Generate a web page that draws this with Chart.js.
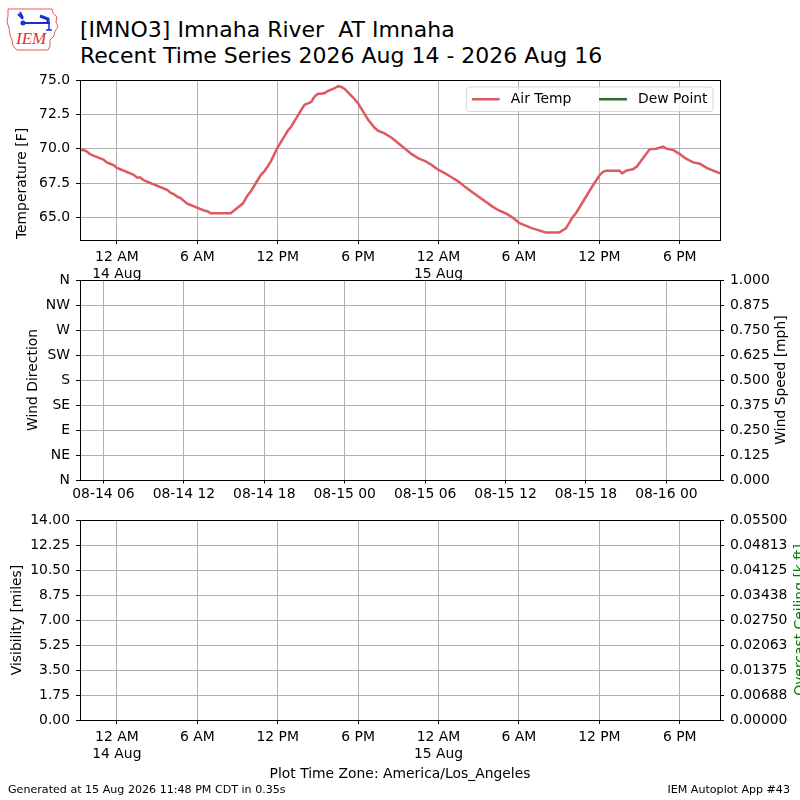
<!DOCTYPE html>
<html>
<head>
<meta charset="utf-8">
<script src="https://cdn.jsdelivr.net/npm/chart.js@4.4.1/dist/chart.umd.min.js"></script>
<style>
    body { margin: 0; background: #fff; width: 800px; height: 800px; position: relative; overflow: hidden; font-family: 'DejaVu Sans', sans-serif; }
    canvas { position: absolute; left: 0; }
    .txt { position: absolute; white-space: nowrap; color: #000; line-height: 1; }
</style>
</head>
<body>

<svg style="position:absolute;left:0;top:0" width="70" height="60" viewBox="0 0 70 60">
    <path d="M8 9 L52 9 L53 13 L57 17 L56 22 L58 27 L55 31 L54 36 L50 40 L50 46 L48 50 L17 50 L13 46 L12 40 L10 35 L9 28 L7 22 L8 16 Z"
          fill="none" stroke="#e03030" stroke-width="0.8"/>
    <path d="M20 12 L23 18 M18 14 L23 19" stroke="#1a2fd0" stroke-width="2" fill="none"/>
    <line x1="23" y1="23" x2="50" y2="23" stroke="#1a2fd0" stroke-width="2"/>
    <path d="M40 16 L48 19 L48 22" stroke="#1a2fd0" stroke-width="3" fill="none"/>
    <circle cx="23" cy="23" r="2.5" fill="#1a2fd0"/>
    <path d="M49 24 L49 30 M46 30 L52 30" stroke="#1a2fd0" stroke-width="1.5" fill="none"/>
    <text x="16" y="44" font-family="Liberation Serif" font-style="italic" font-size="17" fill="#e03030">IEM</text>
</svg>

<div class="txt" style="left:80px;top:18.9px;font-size:22px">[IMNO3] Imnaha River&nbsp; AT Imnaha</div>
<div class="txt" style="left:80px;top:44.7px;font-size:22px">Recent Time Series 2026 Aug 14 - 2026 Aug 16</div>

<canvas id="temp" width="800" height="210" style="top:70px;width:800px;height:210px"></canvas>
<canvas id="wind" width="800" height="235" style="top:272px;width:800px;height:235px"></canvas>
<canvas id="vis" width="800" height="253" style="top:512px;width:800px;height:253px"></canvas>

<div class="txt" style="left:0;width:800px;text-align:center;top:767px;font-size:13.9px">Plot Time Zone: America/Los_Angeles</div>
<div class="txt" style="left:8px;top:784px;font-size:11.1px">Generated at 15 Aug 2026 11:48 PM CDT in 0.35s</div>
<div class="txt" style="right:10px;top:784px;font-size:11.1px">IEM Autoplot App #43</div>

<script>
// hours after 2026-08-14 00:00 America/Los_Angeles
const obsHours = [
    -2.75, -2.5, -2.25, -2.0, -1.75, -1.5, -1.25, -1.0, -0.75, -0.5, -0.25,
    0.0, 0.25, 0.5, 0.75, 1.0, 1.25, 1.5, 1.75, 2.0, 2.25, 2.5, 2.75,
    3.0, 3.25, 3.5, 3.75, 4.0, 4.25, 4.5, 4.75, 5.0, 5.25, 5.5, 5.75,
    6.0, 6.25, 6.5, 6.75, 7.0, 7.5, 8.0, 8.5, 8.75, 9.0, 9.4, 9.75,
    10.0, 10.25, 10.5, 10.75, 11.0, 11.25, 11.5, 11.75, 12.0, 12.25, 12.5, 12.75,
    13.0, 13.25, 13.5, 13.75, 14.0, 14.25, 14.5, 14.75, 15.0, 15.25, 15.5, 15.75,
    16.0, 16.25, 16.5, 16.75, 17.0, 17.25, 17.5, 17.75, 18.0, 18.25, 18.5, 18.75,
    19.0, 19.25, 19.5, 19.75, 20.0, 20.5, 21.0, 21.5, 22.0, 22.5, 23.0, 23.5,
    24.0, 24.5, 25.0, 25.5, 26.0, 26.5, 27.0, 27.5, 28.0, 28.5, 29.0, 29.5,
    30.0, 30.5, 31.0, 31.5, 32.0, 32.5, 33.0, 33.5, 33.75, 34.0, 34.25, 34.5,
    35.0, 35.5, 36.0, 36.25, 36.5, 37.0, 37.5, 37.7, 38.0, 38.5, 38.8, 39.25,
    39.75, 40.25, 40.75, 41.0, 41.5, 42.0, 42.5, 43.0, 43.5, 44.0, 44.5, 45.0
];
const airTemp = [
    69.9, 69.9, 69.8, 69.6, 69.5, 69.4, 69.3, 69.2, 69.0, 68.9, 68.8,
    68.6, 68.5, 68.4, 68.3, 68.2, 68.1, 67.9, 67.9, 67.7, 67.6, 67.5, 67.4,
    67.3, 67.2, 67.1, 67.0, 66.8, 66.7, 66.5, 66.4, 66.2, 66.0, 65.9, 65.8,
    65.7, 65.6, 65.5, 65.45, 65.3, 65.3, 65.3, 65.3, 65.5, 65.7, 66.0, 66.6,
    66.9, 67.3, 67.7, 68.1, 68.35, 68.7, 69.1, 69.6, 70.1, 70.5, 70.9, 71.3,
    71.6, 72.0, 72.4, 72.8, 73.2, 73.3, 73.4, 73.8, 74.0, 74.0, 74.05, 74.2,
    74.3, 74.4, 74.55, 74.5, 74.35, 74.1, 73.85, 73.6, 73.3, 72.9, 72.5, 72.1,
    71.8, 71.5, 71.3, 71.2, 71.1, 70.8, 70.4, 70.0, 69.6, 69.3, 69.1, 68.8,
    68.45, 68.2, 67.9, 67.6, 67.2, 66.85, 66.5, 66.15, 65.8, 65.5, 65.3, 65.0,
    64.6, 64.4, 64.2, 64.05, 63.9, 63.9, 63.9, 64.2, 64.6, 65.0, 65.3, 65.7,
    66.5, 67.3, 68.05, 68.3, 68.4, 68.4, 68.4, 68.2, 68.4, 68.5, 68.7, 69.3,
    69.95, 70.0, 70.15, 70.0, 69.9, 69.6, 69.25, 69.0, 68.9, 68.6, 68.4, 68.2
];
const dewPoint = [];

const localTickHours = [0, 6, 12, 18, 24, 30, 36, 42];
const localTickLabels = [['12 AM', '14 Aug'], '6 AM', '12 PM', '6 PM', ['12 AM', '15 Aug'], '6 AM', '12 PM', '6 PM'];
const utcTickHours = [-1, 5, 11, 17, 23, 29, 35, 41];
const utcTickLabels = ['08-14 06', '08-14 12', '08-14 18', '08-15 00', '08-15 06', '08-15 12', '08-15 18', '08-16 00'];

const tempTicks = [65, 67.5, 70, 72.5, 75];
const tempTickLabels = ['65.0', '67.5', '70.0', '72.5', '75.0'];
const dirTicks = [0, 45, 90, 135, 180, 225, 270, 315, 360];
const dirTickLabels = ['N', 'NE', 'E', 'SE', 'S', 'SW', 'W', 'NW', 'N'];
const speedTicks = [0, 0.125, 0.25, 0.375, 0.5, 0.625, 0.75, 0.875, 1];
const speedTickLabels = ['0.000', '0.125', '0.250', '0.375', '0.500', '0.625', '0.750', '0.875', '1.000'];
const visTicks = [0, 1.75, 3.5, 5.25, 7, 8.75, 10.5, 12.25, 14];
const visTickLabels = ['0.00', '1.75', '3.50', '5.25', '7.00', '8.75', '10.50', '12.25', '14.00'];
const ceilTicks = [0, 0.006875, 0.01375, 0.020625, 0.0275, 0.034375, 0.04125, 0.048125, 0.055];
const ceilTickLabels = ['0.00000', '0.00688', '0.01375', '0.02063', '0.02750', '0.03438', '0.04125', '0.04813', '0.05500'];

const FONT = 'DejaVu Sans';
const FONT_PX = 13.9;
const GRID = '#b0b0b0';

Chart.defaults.font.family = FONT;
Chart.defaults.font.size = FONT_PX;
Chart.defaults.color = '#000';

function fixedTicks(values) {
    return scale => { scale.ticks = values.map(v => ({ value: v })); };
}

function timeAxis(tickHours, tickLabels, height, tickLength, padding) {
    return {
        type: 'linear',
        min: obsHours[0],
        max: obsHours[obsHours.length - 1],
        afterBuildTicks: fixedTicks(tickHours),
        afterFit: s => {
            s.height = height;
            s.paddingLeft = 0;
            s.paddingRight = 0;
        },
        ticks: { autoSkip: false, maxRotation: 0, padding: padding, callback: (v, i) => tickLabels[i] },
        grid: { color: GRID, lineWidth: 1, tickLength: tickLength, tickColor: '#000' },
        border: { display: false }
    };
}

function valueAxis(position, min, max, tickValues, tickLabels, showGrid) {
    return {
        type: 'linear',
        position: position,
        min: min,
        max: max,
        afterBuildTicks: fixedTicks(tickValues),
        afterFit: s => {
            s.width = 80;
            s.paddingTop = 0;
            s.paddingBottom = 0;
        },
        ticks: { autoSkip: false, padding: 6, callback: (v, i) => tickLabels[i] },
        grid: { color: GRID, lineWidth: 1, tickLength: 4, tickColor: '#000', drawOnChartArea: showGrid },
        border: { display: false }
    };
}

// black box round the plot area, like matplotlib spines
const frame = {
    id: 'frame',
    afterDraw(chart) {
        const { ctx, chartArea: a } = chart;
        ctx.save();
        ctx.strokeStyle = '#000';
        ctx.lineWidth = 1;
        ctx.strokeRect(Math.round(a.left) + 0.5, Math.round(a.top) + 0.5, Math.round(a.right - a.left), Math.round(a.bottom - a.top));
        ctx.restore();
    }
};

function axisTitles(titles) {
    return {
        id: 'axisTitles',
        afterDraw(chart) {
            const { ctx, chartArea } = chart;
            const midY = (chartArea.top + chartArea.bottom) / 2;
            titles.forEach(t => {
                ctx.save();
                ctx.translate(t.x, midY + (t.dy || 0));
                ctx.rotate(-Math.PI / 2);
                ctx.font = FONT_PX + 'px "' + FONT + '"';
                ctx.fillStyle = t.color || '#000';
                ctx.textAlign = 'center';
                ctx.textBaseline = 'middle';
                ctx.fillText(t.text, 0, 0);
                ctx.restore();
            });
        }
    };
}

// matplotlib style legend in the upper right of the plot area
const cornerLegend = {
    id: 'cornerLegend',
    afterDraw(chart) {
        const { ctx, chartArea: a } = chart;
        const sets = chart.data.datasets;
        ctx.save();
        ctx.font = FONT_PX + 'px "' + FONT + '"';
        const handle = 2 * FONT_PX, gap = 0.8 * FONT_PX, colGap = 2 * FONT_PX, pad = 5.5;
        let inner = 0;
        sets.forEach((ds, i) => {
            inner += handle + gap + ctx.measureText(ds.label).width + (i ? colGap : 0);
        });
        const w = inner + 2 * pad, h = 24.5;
        const x0 = a.right - 7 - w, y0 = a.top + 7;
        ctx.beginPath();
        ctx.roundRect(x0, y0, w, h, 3);
        ctx.fillStyle = 'rgba(255,255,255,0.8)';
        ctx.fill();
        ctx.strokeStyle = '#d6d6d6';
        ctx.lineWidth = 1;
        ctx.stroke();
        let x = x0 + pad;
        const yMid = y0 + h / 2;
        sets.forEach((ds, i) => {
            if (i) x += colGap;
            ctx.beginPath();
            ctx.moveTo(x, yMid);
            ctx.lineTo(x + handle, yMid);
            ctx.strokeStyle = ds.borderColor;
            ctx.lineWidth = 2.5;
            ctx.stroke();
            x += handle + gap;
            ctx.fillStyle = '#000';
            ctx.textBaseline = 'middle';
            ctx.fillText(ds.label, x, yMid);
            x += ctx.measureText(ds.label).width;
        });
        ctx.restore();
    }
};

const common = {
    responsive: false,
    animation: false,
    events: [],
    plugins: { legend: { display: false }, tooltip: { enabled: false } }
};

new Chart(document.getElementById('temp'), {
    type: 'line',
    data: {
        datasets: [
            {
                label: 'Air Temp',
                data: obsHours.map((h, i) => ({ x: h, y: airTemp[i] })),
                borderColor: '#de5a62',
                borderWidth: 2.5,
                pointRadius: 0,
                tension: 0
            },
            {
                label: 'Dew Point',
                data: dewPoint,
                borderColor: '#2e6b2e',
                borderWidth: 2.5,
                pointRadius: 0
            }
        ]
    },
    options: {
        ...common,
        layout: { padding: { top: 10, right: 80, left: 0, bottom: 0 } },
        scales: {
            x: timeAxis(localTickHours, localTickLabels, 40, 4, 5),
            y: valueAxis('left', 63.35, 75.0, tempTicks, tempTickLabels, true)
        }
    },
    plugins: [frame, cornerLegend, axisTitles([{ text: 'Temperature [F]', x: 22.5, dy: 23.5 }])]
});

new Chart(document.getElementById('wind'), {
    type: 'line',
    data: { datasets: [] },
    options: {
        ...common,
        layout: { padding: { top: 8, right: 0, left: 0, bottom: 0 } },
        scales: {
            x: timeAxis(utcTickHours, utcTickLabels, 27, 3.5, 2.5),
            y: valueAxis('left', 0, 360, dirTicks, dirTickLabels, true),
            y2: valueAxis('right', 0, 1, speedTicks, speedTickLabels, false)
        }
    },
    plugins: [frame, axisTitles([
        { text: 'Wind Direction', x: 33 },
        { text: 'Wind Speed [mph]', x: 781.5 }
    ])]
});

new Chart(document.getElementById('vis'), {
    type: 'line',
    data: { datasets: [] },
    options: {
        ...common,
        layout: { padding: { top: 8, right: 0, left: 0, bottom: 0 } },
        scales: {
            x: timeAxis(localTickHours, localTickLabels, 45, 4, 5),
            y: valueAxis('left', 0, 14, visTicks, visTickLabels, true),
            y2: valueAxis('right', 0, 0.055, ceilTicks, ceilTickLabels, false)
        }
    },
    plugins: [frame, axisTitles([
        { text: 'Visibility [miles]', x: 17 },
        { text: 'Overcast Ceiling [k ft]', x: 800, color: '#008000' }
    ])]
});
</script>
</body>
</html>
